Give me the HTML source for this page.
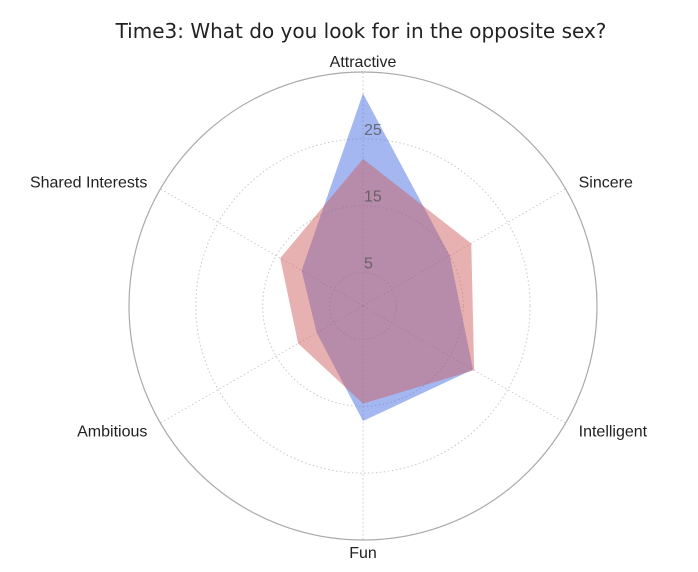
<!DOCTYPE html>
<html><head><meta charset="utf-8">
<style>
html,body{margin:0;padding:0;background:#fff;}
svg{display:block;}
</style></head>
<body>
<svg id="chart" width="698" height="572" viewBox="0 0 698 572" xmlns="http://www.w3.org/2000/svg">
<text x="361" y="38" text-anchor="middle" font-family="DejaVu Sans, Liberation Sans, sans-serif" font-size="20" fill="#222">Time3: What do you look for in the opposite sex?</text>
<g id="grid"></g>
<g id="series"></g>
<g id="labels"></g>
</svg>
<script>
const categories = ["Attractive","Sincere","Intelligent","Fun","Ambitious","Shared Interests"];
const seriesA = [31.8, 15, 19, 17.2, 8, 10.6];
const seriesB = [22, 18.7, 19.2, 14.6, 11.2, 14.3];
const tickValues = [5, 15, 25, 35];
const tickLabels = ["5", "15", "25"];
const rMax = 35;

const cx = 363, cy = 306, R = 234;
const NS = "http://www.w3.org/2000/svg";
function rScale(v){ return v / rMax * R; }
function ang(i){ return i / categories.length * 2 * Math.PI; }
function pt(i, v){ const r = rScale(v), a = ang(i); return [cx + r*Math.sin(a), cy - r*Math.cos(a)]; }
function mk(tag, attrs, parent){ const e = document.createElementNS(NS, tag); for (const k in attrs) e.setAttribute(k, attrs[k]); parent.appendChild(e); return e; }

const grid = document.getElementById('grid');
tickValues.forEach((t, i) => {
  const last = i === tickValues.length - 1;
  const c = mk('circle', {cx: cx, cy: cy, r: rScale(t), fill: 'none', stroke: last ? '#aaa' : '#c8c8c8', 'stroke-width': last ? 1.2 : 1, 'stroke-dasharray': last ? '' : '1.5,2.5'}, grid);
  
  
});
categories.forEach((c, i) => {
  const [x, y] = pt(i, rMax);
  const l = mk('line', {x1: cx, y1: cy, x2: x, y2: y, stroke: '#c8c8c8', 'stroke-dasharray': '1.5,2.5'}, grid);
  
  
});

const series = document.getElementById('series');
function poly(vals, color, name){
  const pts = vals.map((v, i) => pt(i, v).join(',')).join(' ');
  const p = mk('polygon', {points: pts, fill: color, 'fill-opacity': 0.48, stroke: 'none'}, series);
  
  
}
poly(seriesA, 'rgb(65,105,225)', 'series-a-area');
poly(seriesB, 'rgb(205,92,92)', 'series-b-area');

const labels = document.getElementById('labels');
tickLabels.forEach((t, i) => {
  const y = cy - rScale(tickValues[i]) - 4;
  const tx = mk('text', {x: cx + 1, y: y, 'font-family': 'Liberation Sans Narrow, Liberation Sans, sans-serif', 'font-size': 16, fill: '#555', 'fill-opacity': 0.8}, labels);
  tx.textContent = t;
  
  
});
categories.forEach((c, i) => {
  const a = ang(i);
  const rr = R + 15;
  let x = cx + rr*Math.sin(a), y = cy - rr*Math.cos(a) + 6;
  let anchor = 'middle';
  if (Math.sin(a) > 0.1) anchor = 'start';
  else if (Math.sin(a) < -0.1) anchor = 'end';
  if (i === 0) y += 4;
  if (i === 3) y -= 3;
  const tx = mk('text', {x: x, y: y, 'text-anchor': anchor, 'font-family': 'Liberation Sans Narrow, Liberation Sans, sans-serif', 'font-size': 16, fill: '#222'}, labels);
  tx.textContent = c;
  
  
});
</script>
</body></html>
